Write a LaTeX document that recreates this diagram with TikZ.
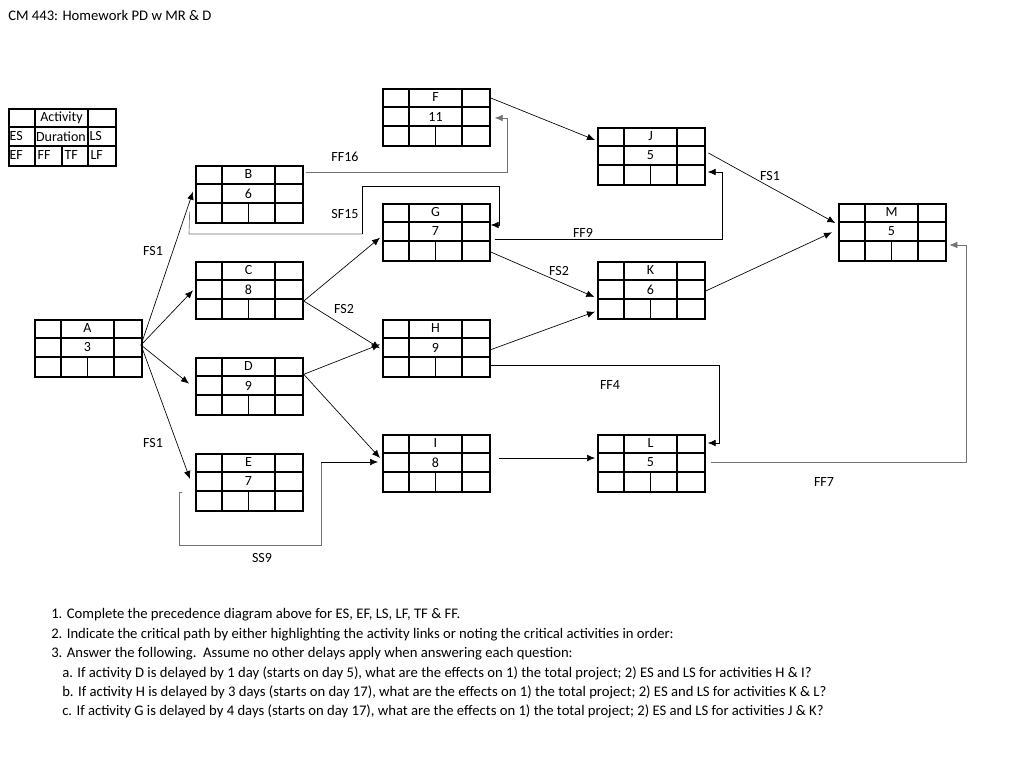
\documentclass[tikz,border=0pt]{standalone}
\usepackage{fontspec}
\setmainfont{Carlito}
\usetikzlibrary{arrows.meta}
\tikzset{
  box/.style={draw, line width=1.3pt, minimum width=80.25pt, minimum height=42.75pt, inner sep=0pt},
  grid/.style={line width=1.1pt},
  conn/.style={line width=0.5pt, -{Latex[length=6pt,width=5pt]}},
  gconn/.style={conn, draw=black!55},
  gline/.style={line width=0.5pt, draw=black!55},
  lbl/.style={font=\fontsize{10.5}{11}\selectfont, inner sep=1pt},
  txt/.style={font=\fontsize{11}{12}\selectfont, anchor=west, inner sep=0pt}
}
\newcommand\actbox[5]{%
  \node[box, anchor=north west] (#1) at (#2,#3) {};
  \draw[grid] (#2,#3+19) -- ++(107,0) (#2,#3+38) -- ++(107,0)
    (#2+27,#3) -- ++(0,57) (#2+80,#3) -- ++(0,57) (#2+53.5,#3+38) -- ++(0,19);
  \node[lbl] (#1t) at (#2+53.5,#3+9.5) {#4};
  \node[lbl] (#1d) at (#2+53.5,#3+28.5) {#5};
}
\begin{document}
\begin{tikzpicture}[x=0.75pt,y=-0.75pt]
\useasboundingbox (0,0) rectangle (1024,774);
\node[txt] (title) at (8,15) {CM 443: Homework PD w MR \& D};
% legend
\node[box, anchor=north west] (leg) at (8,108) {};
\draw[grid] (8,127) -- ++(107,0) (8,146) -- ++(107,0)
  (35,108) -- ++(0,57) (88,108) -- ++(0,57) (62,146) -- ++(0,19);
\node[lbl] (l1) at (61.5,117.5) {Activity};
\node[lbl,anchor=west] (l2) at (8,136.5) {ES};
\node[lbl,anchor=west] (l3) at (34.5,136.5) {Duration};
\node[lbl,anchor=west] (l4) at (88,136.5) {LS};
\node[lbl,anchor=west] (l5) at (8,155.5) {EF};
\node[lbl,anchor=west] (l6) at (36,155.5) {FF};
\node[lbl,anchor=west] (l7) at (63,155.5) {TF};
\node[lbl,anchor=west] (l8) at (89,155.5) {LF};
% activities
\actbox{F}{382}{88}{F}{11}
\actbox{J}{597}{127}{J}{5}
\actbox{B}{195}{165}{B}{6}
\actbox{G}{382}{203}{G}{7}
\actbox{M}{838}{203}{M}{5}
\actbox{C}{195}{261}{C}{8}
\actbox{K}{597}{261}{K}{6}
\actbox{A}{34}{319}{A}{3}
\actbox{H}{382}{319}{H}{9}
\actbox{D}{195}{357}{D}{9}
\actbox{I}{382}{434}{I}{8}
\actbox{L}{597}{434}{L}{5}
\actbox{E}{195}{453}{E}{7}
% connectors
\coordinate (a0) at (141,345);
\draw[conn] (a0) -- ([xshift=-1.5pt,yshift=-20pt]B.north west);
\draw[conn] (a0) -- ([xshift=-1.5pt]C.west);
\draw[conn] (a0) -- ([xshift=-4.5pt,yshift=-20pt]D.north west);
\draw[conn] (a0) -- ([xshift=-3.75pt,yshift=-19.5pt]E.north west);
\draw[conn] ([yshift=-8pt]C.east) -- ([xshift=-1.5pt,yshift=-26pt]G.north west);
\draw[conn] ([yshift=-8pt]C.east) -- ([xshift=-1.5pt,yshift=-22pt]H.north west);
\draw[conn] ([yshift=-13pt]D.north east) -- ([xshift=-1.5pt,yshift=-19pt]H.north west);
\draw[conn] ([yshift=-13pt]D.north east) -- ([xshift=-1.5pt,yshift=-18pt]I.north west);
\draw[conn] ([xshift=6pt,yshift=-18pt]I.north east) -- ([xshift=-1.5pt,yshift=-18pt]L.north west);
\draw[conn] ([yshift=-23pt]H.north east) -- ([xshift=-1.5pt,yshift=-38pt]K.north west);
\draw[conn] ([yshift=-22.5pt]K.north east) -- ([xshift=-4.5pt,yshift=-22pt]M.north west);
\draw[conn] ([xshift=2pt,yshift=-19.5pt]J.north east) -- ([xshift=-2pt,yshift=-15pt]M.north west);
\draw[conn] ([yshift=-7.5pt]F.north east) -- ([xshift=-1.5pt,yshift=-9.75pt]J.north west);
\draw[conn] ([yshift=-36.75pt]G.north east) -- ([xshift=-2pt,yshift=-27pt]K.north west);
% lag connectors
\draw[conn] ([yshift=-34.5pt]H.north east) -- (719,365) -- (719,443) -- ([xshift=1.5pt,yshift=-6.75pt]L.north east);
\draw[gconn] ([xshift=4pt,yshift=-21pt]L.north east) -- (966,462) -- (966,245) -- ([xshift=2pt,yshift=-31.5pt]M.north east);
\draw[conn] ([xshift=3pt,yshift=-27pt]G.north east) -- (722,239) -- (722,172) -- ([xshift=1.5pt,yshift=-33.75pt]J.north east);
\draw[gconn] ([xshift=1.5pt,yshift=-5.25pt]B.north east) -- (507,172) -- (507,118) -- ([xshift=3pt,yshift=-22.5pt]F.north east);
\draw[gline] ([xshift=-4pt,yshift=-35pt]B.north west) -- (189,234) -- (362,234);
\draw[conn] (362,234) -- (362,186) -- (499,186) -- (499,225) -- ([xshift=0pt,yshift=-16.5pt]G.north east);
\draw[gline] ([xshift=-10pt,yshift=-29.25pt]E.north west) -- (179,492) -- (179,545) -- (321,545) -- (321,462);
\draw[conn] (321,462) -- ([xshift=-3pt,yshift=-21pt]I.north west);
% labels
\node[lbl] (f1) at (153,251) {FS1};
\node[lbl] (f2) at (153,443) {FS1};
\node[lbl] (f3) at (344,309) {FS2};
\node[lbl] (f4) at (345,157) {FF16};
\node[lbl] (f5) at (345,214) {SF15};
\node[lbl] (f6) at (583,233) {FF9};
\node[lbl] (f7) at (559,271) {FS2};
\node[lbl] (f8) at (770,176) {FS1};
\node[lbl] (f9) at (610,385) {FF4};
\node[lbl] (f10) at (824,482) {FF7};
\node[lbl] (f11) at (262,558) {SS9};
% questions
\node[txt] (q1) at (51,615) {1. Complete the precedence diagram above for ES, EF, LS, LF, TF \& FF.};
\node[txt] (q2) at (51,635) {2. Indicate the critical path by either highlighting the activity links or noting the critical activities in order:};
\node[txt] (q3) at (51,654) {3. Answer the following.\ \ Assume no other delays apply when answering each question:};
\node[txt] (q4) at (62,673) {a. If activity D is delayed by 1 day (starts on day 5), what are the effects on 1) the total project; 2) ES and LS for activities H \& I?};
\node[txt] (q5) at (62,692) {b. If activity H is delayed by 3 days (starts on day 17), what are the effects on 1) the total project; 2) ES and LS for activities K \& L?};
\node[txt] (q6) at (62,711) {c. If activity G is delayed by 4 days (starts on day 17), what are the effects on 1) the total project; 2) ES and LS for activities J \& K?};
\end{tikzpicture}
\end{document}
